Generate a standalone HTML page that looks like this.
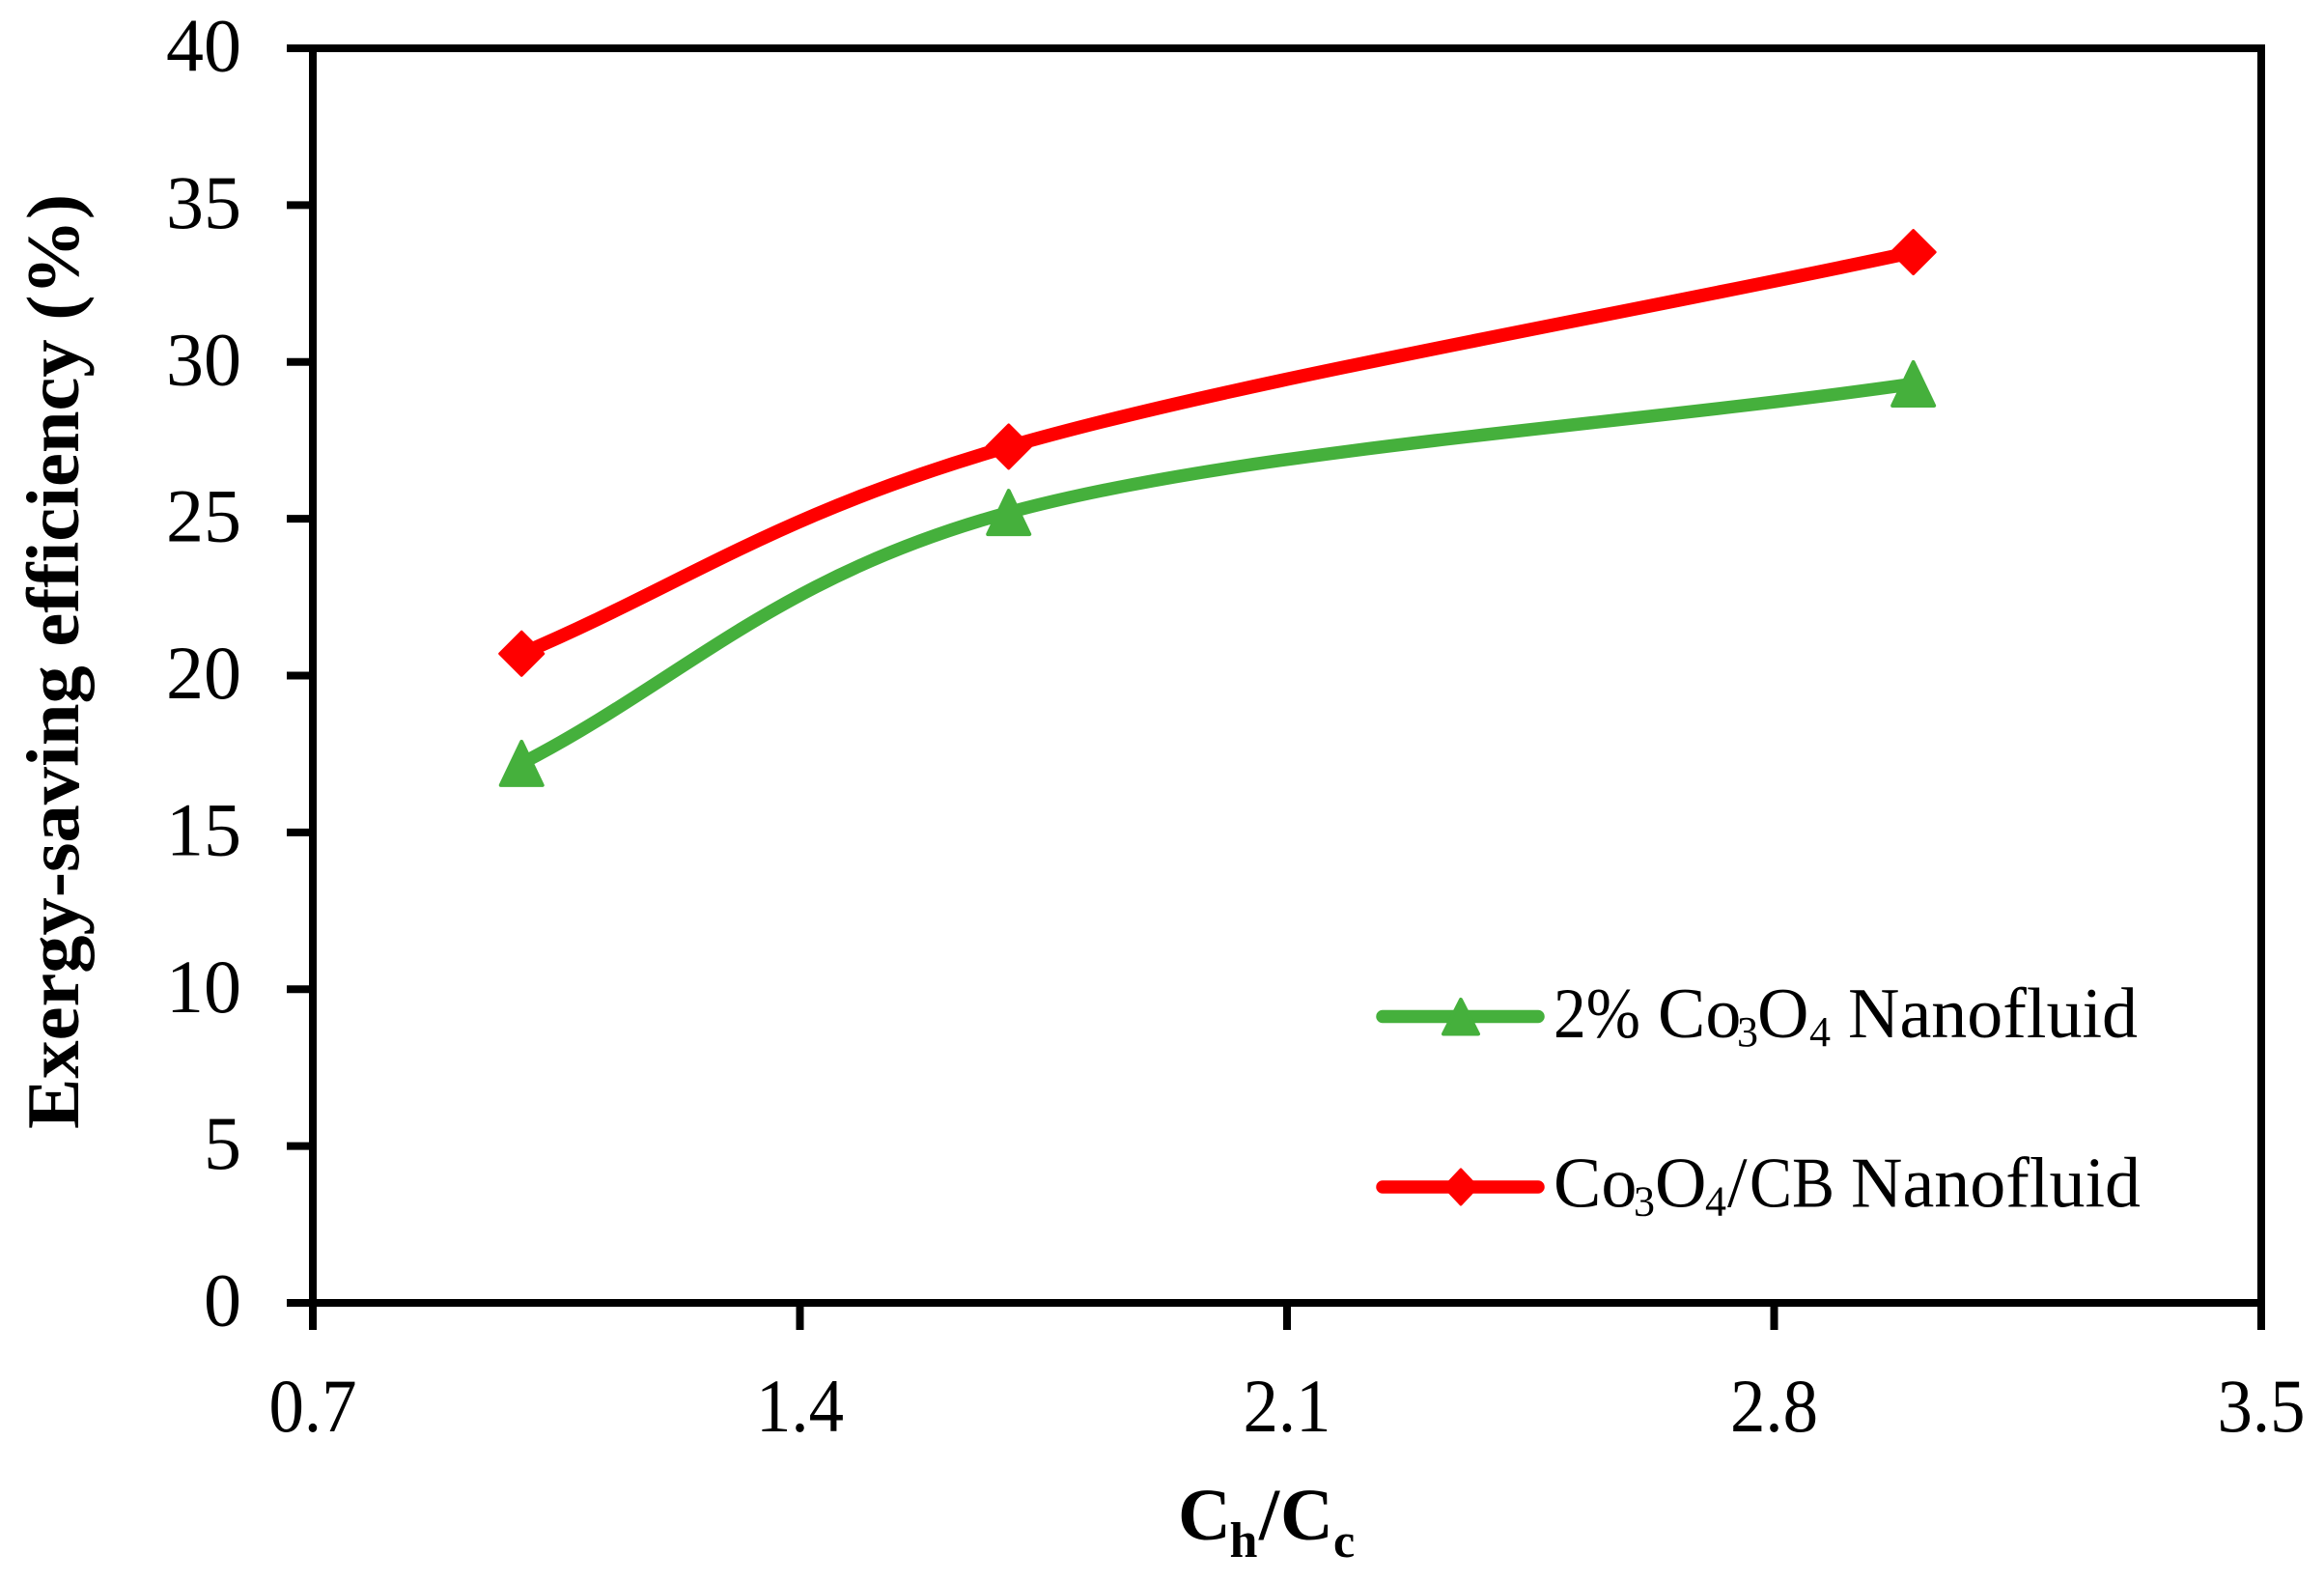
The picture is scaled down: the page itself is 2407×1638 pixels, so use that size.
<!DOCTYPE html>
<html lang="en">
<head>
<meta charset="utf-8">
<title>Exergy-saving efficiency chart</title>
<style>
html,body{margin:0;padding:0;background:#fff;}
svg{display:block;}
text{font-family:"Liberation Serif",serif;fill:#000;}
</style>
</head>
<body>
<svg id="chart" width="2407" height="1638" viewBox="0 0 2407 1638" xmlns="http://www.w3.org/2000/svg">
  <rect x="0" y="0" width="2407" height="1638" fill="#fff"/>
  <g id="grid-layer"></g>
  <g id="series-layer"></g>

  <text transform="translate(81,685) rotate(-90)" text-anchor="middle" font-size="77" font-weight="bold" textLength="968" lengthAdjust="spacingAndGlyphs">Exergy-saving efficiency (%)</text>

  <text font-weight="bold" font-size="76" y="1594"><tspan x="1220">C</tspan><tspan x="1273.5" y="1612" font-size="52">h</tspan><tspan x="1304" y="1594">/</tspan><tspan x="1326" y="1594">C</tspan><tspan x="1381" y="1612" font-size="50">c</tspan></text>

  <g>
    <g>
      <line x1="1432" y1="1052.5" x2="1593" y2="1052.5" stroke="#45b03c" stroke-width="13.5" stroke-linecap="round"/>
      <polygon points="1513,1035 1531,1070.5 1495,1070.5" fill="#45b03c" stroke="#45b03c" stroke-width="4" stroke-linejoin="round"/>
      <text y="1074" font-size="74"><tspan x="1609" textLength="90" lengthAdjust="spacingAndGlyphs">2%</tspan><tspan x="1717">Co</tspan><tspan x="1799" y="1083" font-size="44">3</tspan><tspan x="1820" y="1074">O</tspan><tspan x="1874" y="1083" font-size="44">4</tspan><tspan x="1914" y="1074">Nanofluid</tspan></text>
    </g>
    <g>
      <line x1="1432" y1="1229" x2="1593" y2="1229" stroke="#ff0000" stroke-width="13.5" stroke-linecap="round"/>
      <polygon points="1513,1211 1530,1229 1513,1247 1496,1229" fill="#ff0000" stroke="#ff0000" stroke-width="3" stroke-linejoin="round"/>
      <text y="1249.5" font-size="74"><tspan x="1609">Co</tspan><tspan x="1692" y="1258.5" font-size="44">3</tspan><tspan x="1714" y="1249.5">O</tspan><tspan x="1766" y="1258.5" font-size="44">4</tspan><tspan x="1789" y="1249.5">/</tspan><tspan x="1812" textLength="88" lengthAdjust="spacingAndGlyphs">CB</tspan><tspan x="1917">Nanofluid</tspan></text>
    </g>
  </g>
</svg>
<script>
var xCategories = [1.0, 1.7, 3.0];
var co3o4Values = [17.2, 25.2, 29.3];
var hybridValues = [20.7, 27.3, 33.5];
var xTickLabels = ["0.7", "1.4", "2.1", "2.8", "3.5"];
var yTickLabels = ["0", "5", "10", "15", "20", "25", "30", "35", "40"];

var NS = "http://www.w3.org/2000/svg";
var X0 = 324, X1 = 2342, Y0 = 1349, Y1 = 50;
var xMin = Number(xTickLabels[0]), xMax = Number(xTickLabels[xTickLabels.length - 1]);
var yMin = Number(yTickLabels[0]), yMax = Number(yTickLabels[yTickLabels.length - 1]);
function xScale(v) { return X0 + (v - xMin) / (xMax - xMin) * (X1 - X0); }
function yScale(v) { return Y0 - (v - yMin) / (yMax - yMin) * (Y0 - Y1); }

function make(tag, attrs, parent) {
  var el = document.createElementNS(NS, tag);
  for (var k in attrs) { el.setAttribute(k, attrs[k]); }
  parent.appendChild(el);
  return el;
}

var axes = document.getElementById("grid-layer");
var series = document.getElementById("series-layer");
var AXW = 8;

var plotFrame = make("rect", {x: X0, y: Y1, width: X1 - X0, height: Y0 - Y1, fill: "none", stroke: "#000", "stroke-width": AXW}, axes);



yTickLabels.forEach(function (label) {
  var y = yScale(Number(label));
  var tick = make("line", {x1: 297, x2: X0, y1: y, y2: y, stroke: "#000", "stroke-width": AXW}, axes);
  
  
  var text = make("text", {x: 250, y: y + 23.5, "text-anchor": "end", "font-size": 78}, axes);
  
  
  text.textContent = label;
});

xTickLabels.forEach(function (label) {
  var x = xScale(Number(label));
  var tick = make("line", {x1: x, x2: x, y1: Y0, y2: 1377, stroke: "#000", "stroke-width": AXW}, axes);
  
  
  var text = make("text", {x: x, y: 1482, "text-anchor": "middle", "font-size": 78, textLength: 91, lengthAdjust: "spacingAndGlyphs"}, axes);
  
  
  text.textContent = label;
});

function smoothPath(pts) {
  var d = "M" + pts[0][0] + " " + pts[0][1];
  for (var i = 0; i < pts.length - 1; i++) {
    var p0 = pts[i - 1] || pts[i], p1 = pts[i], p2 = pts[i + 1], p3 = pts[i + 2] || p2;
    var f1 = i === 0 ? 1 / 3 : 1 / 6;
    var f2 = i === pts.length - 2 ? 1 / 3 : 1 / 6;
    var c1x = p1[0] + (p2[0] - p0[0]) * f1, c1y = p1[1] + (p2[1] - p0[1]) * f1;
    var c2x = p2[0] - (p3[0] - p1[0]) * f2, c2y = p2[1] - (p3[1] - p1[1]) * f2;
    d += " C" + c1x + " " + c1y + " " + c2x + " " + c2y + " " + p2[0] + " " + p2[1];
  }
  return d;
}

function points(values) {
  return values.map(function (v, i) { return [xScale(xCategories[i]), yScale(v)]; });
}

var greenPts = points(co3o4Values);
var greenLine = make("path", {d: smoothPath(greenPts), fill: "none", stroke: "#45b03c", "stroke-width": 13.5}, series);


greenPts.forEach(function (p) {
  var m = make("polygon", {
    points: p[0] + "," + (p[1] - 22.5) + " " + (p[0] + 21.5) + "," + (p[1] + 22.5) + " " + (p[0] - 21.5) + "," + (p[1] + 22.5),
    fill: "#45b03c", stroke: "#45b03c", "stroke-width": 4, "stroke-linejoin": "round"
  }, series);
  
  
});

var redPts = points(hybridValues);
var redLine = make("path", {d: smoothPath(redPts), fill: "none", stroke: "#ff0000", "stroke-width": 14}, series);


redPts.forEach(function (p) {
  var m = make("polygon", {
    points: p[0] + "," + (p[1] - 22.5) + " " + (p[0] + 22.5) + "," + p[1] + " " + p[0] + "," + (p[1] + 22.5) + " " + (p[0] - 22.5) + "," + p[1],
    fill: "#ff0000", stroke: "#ff0000", "stroke-width": 3, "stroke-linejoin": "round"
  }, series);
  
  
});
</script>
</body>
</html>
